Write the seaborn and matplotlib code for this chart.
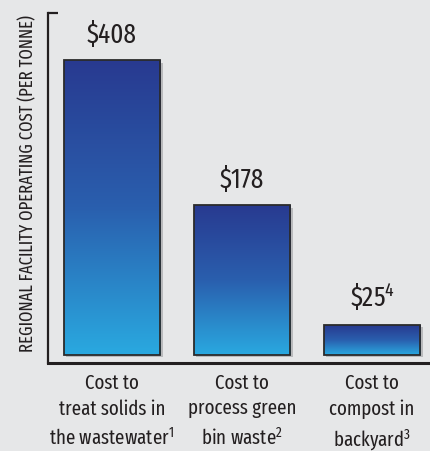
import numpy as np
import pandas as pd
import matplotlib
matplotlib.use("Agg")
import matplotlib.pyplot as plt
import seaborn as sns
from matplotlib.colors import LinearSegmentedColormap

categories = ["Cost to\ntreat solids in\nthe wastewater$^{\\mathrm{1}}$",
              "Cost to\nprocess green\nbin waste$^{\\mathrm{2}}$",
              "Cost to\ncompost in\nbackyard$^{\\mathrm{3}}$"]
values = [408, 178, 25]
value_labels = ["\\$408", "\\$178", "\\$25$^{\\mathrm{4}}$"]
ylabel = "REGIONAL FACILITY OPERATING COST (PER TONNE)"

BG = "#e6e7e8"
TXT = "#231f20"
FNAME = "Fira Sans Extra Condensed"
FONT = [FNAME, "DejaVu Sans"]

sns.set_theme(style="white")
plt.rcParams["font.family"] = FONT
plt.rcParams["mathtext.fontset"] = "custom"
plt.rcParams["mathtext.rm"] = FNAME
plt.rcParams["mathtext.it"] = FNAME

P = 0.82
fwd = lambda v: np.sign(v) * np.abs(v) ** P
inv = lambda v: np.sign(v) * np.abs(v) ** (1 / P)

fig = plt.figure(figsize=(4.3, 4.52), dpi=100, facecolor=BG)
renderer = fig.canvas.get_renderer()


def fit_size(text, target_px):
    t = fig.text(0, 0, text, fontsize=10)
    w = t.get_window_extent(renderer).width
    t.remove()
    return 10 * target_px / w


def fit_linespacing(fs, target_px):
    t1 = fig.text(0, 0, "Ag", fontsize=fs, linespacing=1.0)
    t2 = fig.text(0, 0, "Ag\nAg", fontsize=fs, linespacing=1.0)
    pitch = t2.get_window_extent(renderer).height - t1.get_window_extent(renderer).height
    t1.remove(); t2.remove()
    return target_px / pitch


tick_fs = fit_size("treat solids in", 108)
tick_ls = fit_linespacing(tick_fs, 28)
val_fs = fit_size("\\$408", 50)
ylab_fs = fit_size(ylabel, 335)

ax = fig.add_axes([48 / 430, 88 / 452, 382 / 430, 350 / 452])
ax.set_facecolor(BG)
ax.set_yscale("function", functions=(fwd, inv))

df = pd.DataFrame({"cat": categories, "val": values})
sns.barplot(data=df, x="cat", y="val", ax=ax, width=0.74, color="#2a3b8f",
            edgecolor="#2b2b2b", linewidth=1.3, zorder=3)

XL = (-0.492, 2.446)
YL = (-5.4, 489)
ax.set_xlim(*XL)
ax.set_ylim(*YL)

cmap = LinearSegmentedColormap.from_list("g", ["#29a9e0", "#2a5fae", "#283a90"])
grad = np.linspace(0, 1, 256).reshape(-1, 1)
to_axes = ax.transData + ax.transAxes.inverted()
for p in list(ax.patches):
    x0 = p.get_x(); w = p.get_width(); h = p.get_height()
    (ax0, ay0), (ax1, ay1) = to_axes.transform([(x0, 0), (x0 + w, h)])
    sh = plt.Rectangle((ax0 + 2.5 / 382, ay0 - 2.5 / 350), ax1 - ax0, ay1 - ay0,
                       transform=ax.transAxes, facecolor="#b9babc", edgecolor="none", zorder=2)
    ax.add_patch(sh)
    im = ax.imshow(grad, cmap=cmap, aspect="auto", origin="lower",
                   extent=[ax0, ax1, ay0, ay1], transform=ax.transAxes, zorder=3.5)
    im.set_clip_path(p)
    p.set_facecolor("none")
    p.set_zorder(4)
ax.set_xlim(*XL)
ax.set_ylim(*YL)

for i, (v, lab) in enumerate(zip(values, value_labels)):
    ax.annotate(lab, (i, v), xytext=(0, 9), textcoords="offset points",
                ha="center", va="bottom", fontsize=val_fs, color=TXT)

for s in ["top", "right"]:
    ax.spines[s].set_visible(False)
ax.spines["left"].set_color("#231f20")
ax.spines["left"].set_linewidth(1.6)
ax.spines["bottom"].set_color("#231f20")
ax.spines["bottom"].set_linewidth(2.2)
ax.spines["left"].set_zorder(5)

ax.set_yticks([YL[1]])
ax.set_yticklabels([""])
ax.tick_params(axis="y", direction="in", length=7, width=1.6, color="#231f20", left=True)
ax.tick_params(axis="x", length=0, pad=6.5, labelsize=tick_fs, labelcolor=TXT)
for t in ax.get_xticklabels():
    t.set_linespacing(tick_ls)
ax.set_xlabel("")
ax.set_ylabel("")

fig.text(28 / 430, 1 - 183 / 452, ylabel, rotation=90, ha="center", va="center",
         fontsize=ylab_fs, color=TXT)

fig.savefig("out.png", dpi=100, facecolor=BG)
